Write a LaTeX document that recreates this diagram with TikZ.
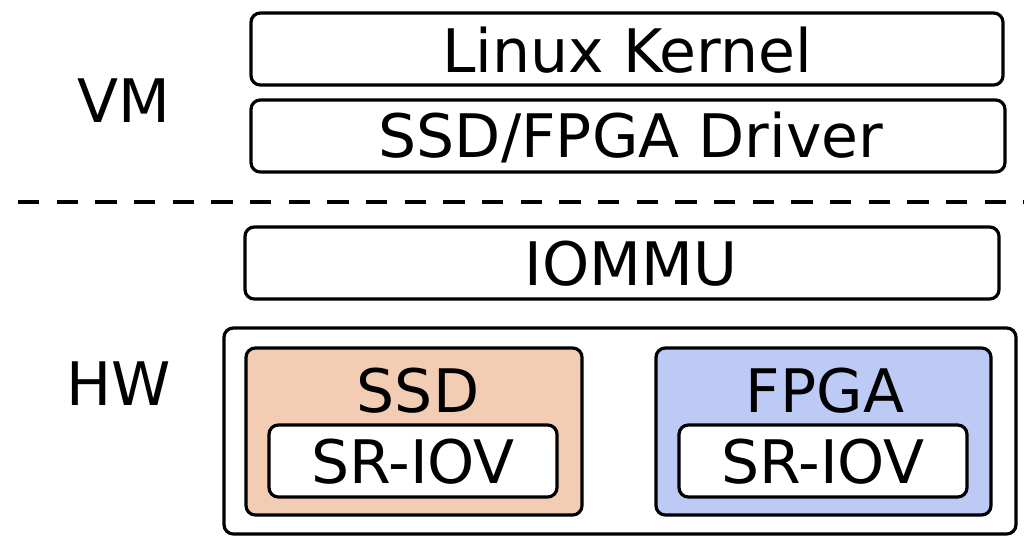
\documentclass[tikz,border=0pt]{standalone}
\usepackage{fontspec}
\setmainfont{DejaVu Sans}
\definecolor{ssdfill}{HTML}{F2CDB3}
\definecolor{fpgafill}{HTML}{BCCAF5}
\begin{document}
\begin{tikzpicture}[x=0.75pt,y=-0.75pt,
  box/.style={draw=black,line width=2.4pt,rounded corners=7pt,fill=white},
  lbl/.style={font=\fontsize{45}{50}\selectfont,inner sep=0pt},
]
\useasboundingbox (0,0) rectangle (1024,536);
% VM layer
\draw[box] (251,13) rectangle (1003,85);
\node[lbl] (kernel) at (627,50) {Linux Kernel};
\draw[box] (251,100) rectangle (1005,172);
\node[lbl] (driver) at (631,137) {SSD/FPGA Driver};
\node[lbl] (vm) at (124,101) {VM};
% boundary
\draw[line width=3pt,dash pattern=on 16pt off 13pt] (18,202) -- (1024,202);
% HW layer
\draw[box] (245,227) rectangle (999,299);
\node[lbl] (iommu) at (631,264) {IOMMU};
\node[lbl] (hw) at (119,384) {HW};
\draw[box] (224,328) rectangle (1016,534);
\draw[box,fill=ssdfill] (246,348) rectangle (582,515);
\node[lbl] (ssd) at (418,391) {SSD};
\draw[box] (269,425) rectangle (557,497);
\node[lbl] (ssdsr) at (413,462) {SR-IOV};
\draw[box,fill=fpgafill] (656,348) rectangle (991,515);
\node[lbl] (fpga) at (825,391) {FPGA};
\draw[box] (679,425) rectangle (967,497);
\node[lbl] (fpgasr) at (823,462) {SR-IOV};
\end{tikzpicture}
\end{document}
